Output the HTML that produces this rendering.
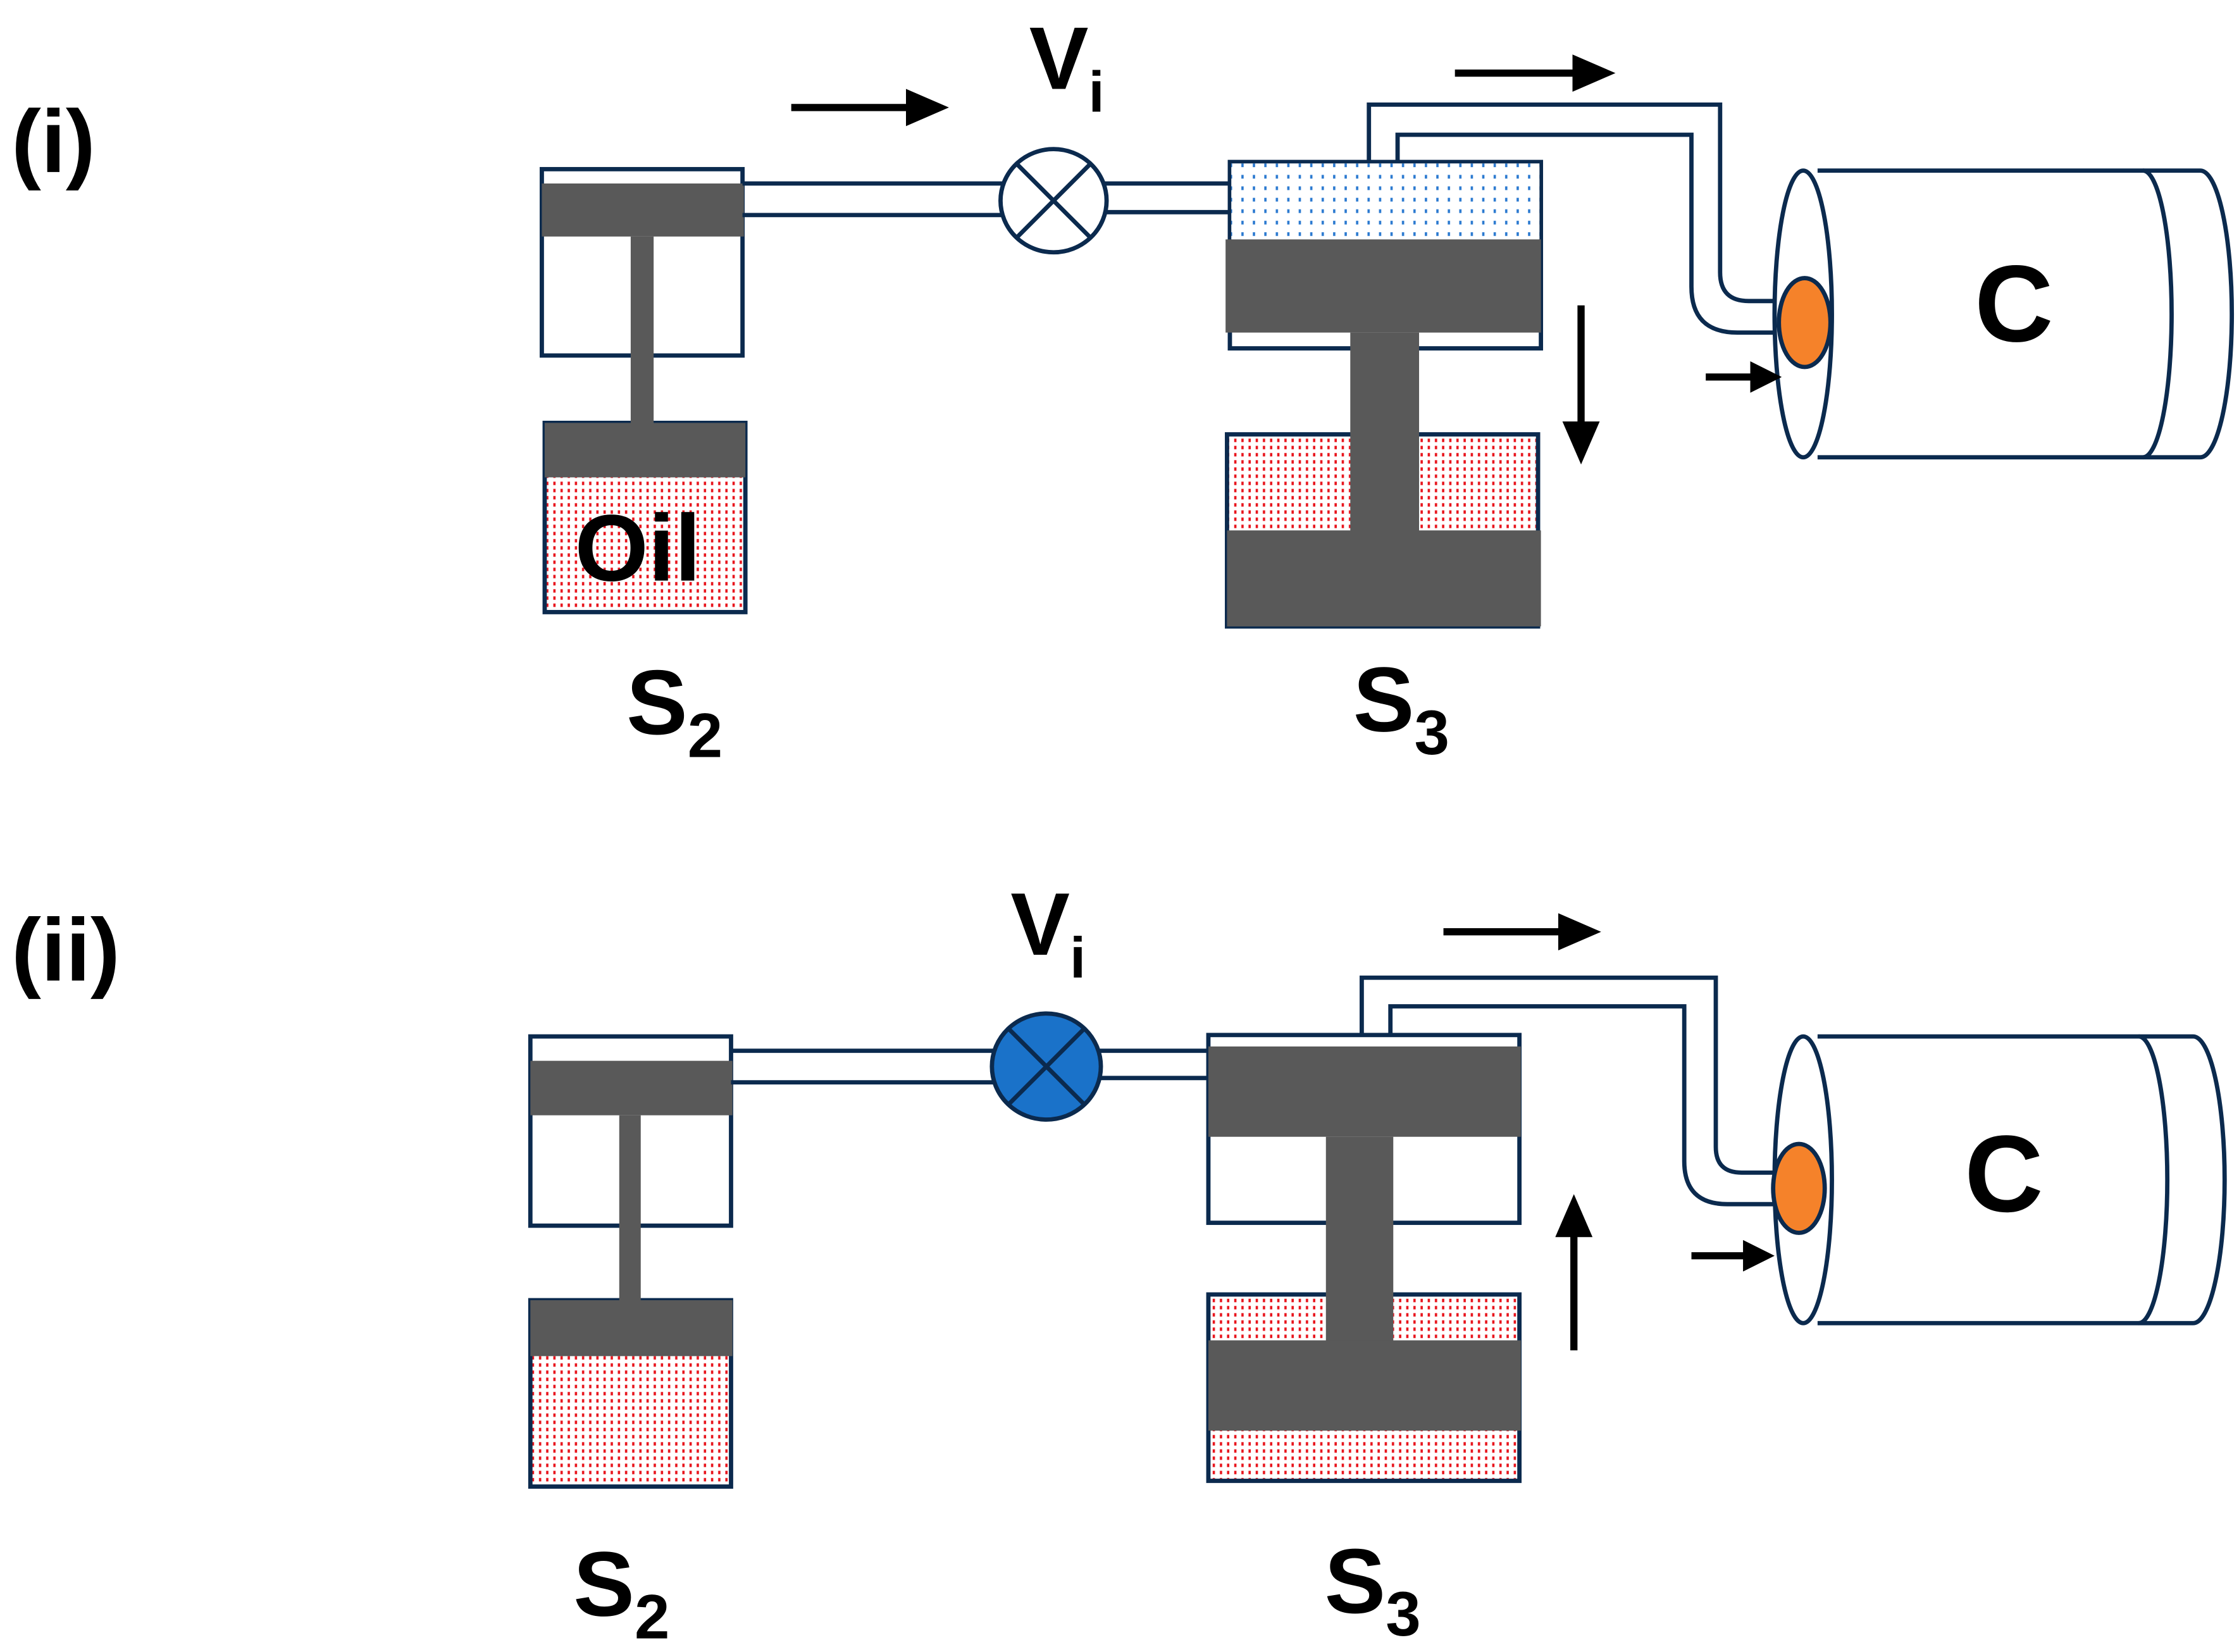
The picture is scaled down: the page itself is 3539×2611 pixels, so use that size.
<!DOCTYPE html>
<html><head><meta charset="utf-8"><style>
html,body{margin:0;padding:0;background:#fff;}
svg{display:block;}
text{font-family:"Liberation Sans",sans-serif;font-weight:bold;fill:#000;}
</style></head><body>
<svg width="3539" height="2611" viewBox="0 0 1562 1152.4" preserveAspectRatio="none" xmlns="http://www.w3.org/2000/svg">
<defs>
<pattern id="red" width="5" height="5" patternUnits="userSpaceOnUse"><rect width="5" height="5" fill="#fff"/><rect x="1" y="1" width="1.6" height="2.4" fill="#e8141c"/></pattern>
<pattern id="blue" width="8" height="8" patternUnits="userSpaceOnUse"><rect width="8" height="8" fill="#fff"/><rect x="2" y="2" width="1.6" height="2.6" fill="#2a79d0"/></pattern>
<marker id="ah" markerWidth="30" markerHeight="26" refX="20" refY="13" orient="auto" markerUnits="userSpaceOnUse" viewBox="0 0 30 26"><path d="M0,0 L30,13 L0,26z" fill="#000"/></marker>
<marker id="ah2" markerWidth="22" markerHeight="22" refX="14" refY="11" orient="auto" markerUnits="userSpaceOnUse" viewBox="0 0 22 22"><path d="M0,0 L22,11 L0,22z" fill="#000"/></marker>
</defs>
<g stroke="#0b2a4e" stroke-width="3" fill="none">
<rect x="378" y="118" width="140" height="130" fill="#fff"/>
<rect x="380" y="295" width="140" height="132" fill="url(#red)"/>
</g>
<rect x="378" y="128" width="141" height="37" fill="#595959"/>
<rect x="440" y="165" width="16" height="131" fill="#595959"/>
<rect x="380" y="295" width="140" height="38" fill="#595959"/>
<text x="445" y="405" font-size="66" text-anchor="middle">Oil</text>
<g stroke="#0b2a4e" stroke-width="3" fill="none">
<path d="M518,128 H700 M518,150 H700 M770,128 H858 M770,148 H858"/>
<ellipse cx="735" cy="140" rx="37" ry="36" fill="#fff"/>
<path d="M709,114 L761,166 M761,114 L709,166"/>
<rect x="858" y="113" width="217" height="130" fill="#fff"/>
<rect x="859" y="114" width="215" height="53" fill="url(#blue)" stroke="none"/>
<rect x="856" y="303" width="217" height="134" fill="url(#red)"/>
<path d="M955,113 V73 H1200 V190 Q1200,210 1220,210 H1245"/>
<path d="M975,113 V94 H1180 V200 Q1180,232 1212,232 H1245"/>
<path d="M1268,119 H1535 A22,100 0 0 1 1535,319 H1268" fill="#fff"/>
<ellipse cx="1258" cy="219" rx="20" ry="100" fill="#fff"/>
<path d="M1495,119 A20,100 0 0 1 1495,319"/>
<ellipse cx="1259" cy="225" rx="18" ry="31" fill="#f5822a"/>
</g>
<rect x="855" y="167" width="220" height="65" fill="#595959"/>
<rect x="942" y="232" width="48" height="140" fill="#595959"/>
<rect x="856" y="370" width="219" height="67" fill="#595959"/>
<text x="1405" y="238" font-size="76" text-anchor="middle">C</text>
<g stroke="#000" stroke-width="5">
<line x1="552" y1="75" x2="652" y2="75" marker-end="url(#ah)"/>
<line x1="1015" y1="51" x2="1117" y2="51" marker-end="url(#ah)"/>
<line x1="1190" y1="263" x2="1235" y2="263" marker-end="url(#ah2)"/>
<line x1="1103" y1="213" x2="1103" y2="314" marker-end="url(#ah)"/>
</g>
<text x="8" y="120" font-size="62">(i)</text>
<text x="718" y="62" font-size="62">V<tspan font-size="40" dy="16">i</tspan></text>
<text x="437" y="512" font-size="64">S<tspan font-size="44" dy="16">2</tspan></text>
<text x="944" y="510" font-size="64">S<tspan font-size="44" dy="16">3</tspan></text>

<g stroke="#0b2a4e" stroke-width="3" fill="none">
<rect x="370" y="723" width="140" height="132" fill="#fff"/>
<rect x="370" y="907" width="140" height="130" fill="url(#red)"/>
</g>
<rect x="370" y="740" width="141" height="38" fill="#595959"/>
<rect x="432" y="778" width="15" height="130" fill="#595959"/>
<rect x="370" y="907" width="141" height="39" fill="#595959"/>
<g stroke="#0b2a4e" stroke-width="3" fill="none">
<path d="M510,733 H695 M510,755 H695 M765,733 H843 M765,752 H843"/>
<ellipse cx="730" cy="744" rx="38" ry="37" fill="#1a72c9"/>
<path d="M703,717 L757,771 M757,717 L703,771"/>
<rect x="843" y="722" width="217" height="131" fill="#fff"/>
<rect x="843" y="903" width="217" height="130" fill="url(#red)"/>
<path d="M950,722 V682 H1197 V800 Q1197,818 1215,818 H1240"/>
<path d="M970,722 V702 H1175 V810 Q1175,840 1205,840 H1240"/>
<path d="M1268,723 H1530 A22,100 0 0 1 1530,923 H1268" fill="#fff"/>
<ellipse cx="1258" cy="823" rx="20" ry="100" fill="#fff"/>
<path d="M1492,723 A20,100 0 0 1 1492,923"/>
<ellipse cx="1255" cy="829" rx="18" ry="31" fill="#f5822a"/>
</g>
<rect x="843" y="730" width="218" height="63" fill="#595959"/>
<rect x="925" y="793" width="47" height="143" fill="#595959"/>
<rect x="843" y="935" width="218" height="63" fill="#595959"/>
<text x="1398" y="845" font-size="76" text-anchor="middle">C</text>
<g stroke="#000" stroke-width="5">
<line x1="1007" y1="650" x2="1107" y2="650" marker-end="url(#ah)"/>
<line x1="1180" y1="876" x2="1230" y2="876" marker-end="url(#ah2)"/>
<line x1="1098" y1="942" x2="1098" y2="843" marker-end="url(#ah)"/>
</g>
<text x="8" y="684" font-size="62">(ii)</text>
<text x="705" y="666" font-size="62">V<tspan font-size="40" dy="16">i</tspan></text>
<text x="400" y="1127" font-size="64">S<tspan font-size="44" dy="16">2</tspan></text>
<text x="924" y="1125" font-size="64">S<tspan font-size="44" dy="16">3</tspan></text>
</svg>
</body></html>
